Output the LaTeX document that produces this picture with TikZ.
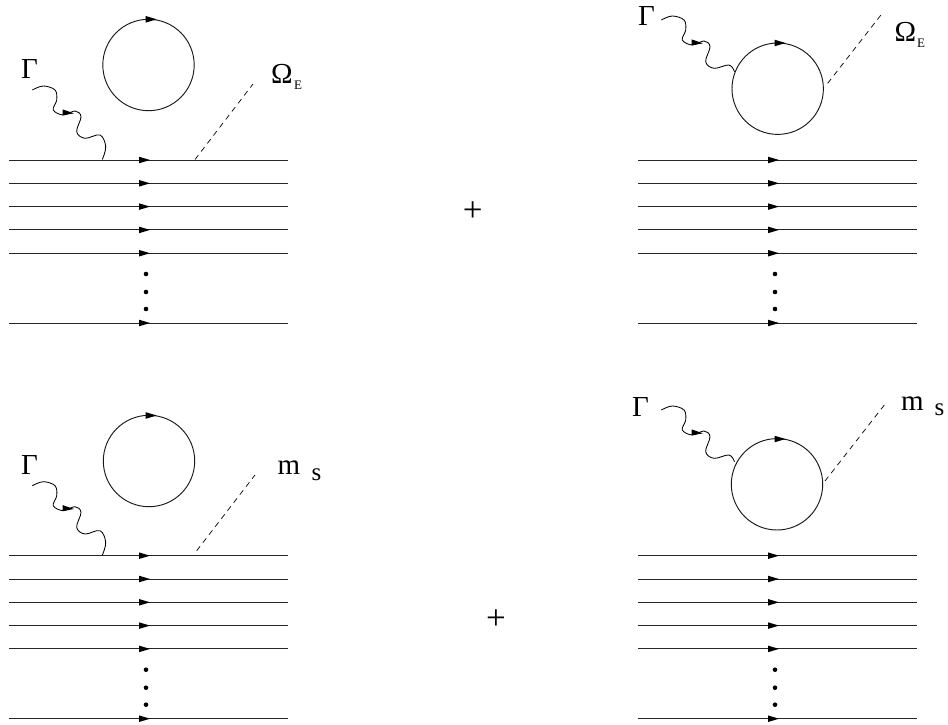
\documentclass[tikz,border=0pt]{standalone}
\usepackage{fontspec}
\setmainfont{Liberation Serif}
\usetikzlibrary{calc}
\newcommand{\bigsz}{\fontsize{29}{32}\selectfont}
\newcommand{\midsz}{\fontsize{25}{28}\selectfont}
\newcommand{\plussz}{\fontsize{35}{38}\selectfont}
\newcommand{\tinysz}{\fontsize{13}{15}\selectfont}
\tikzset{
  fermion/.style={line width=0.95pt,black!85},
  loopc/.style={circle,draw,line width=0.95pt,black!90,minimum size=91.4pt,inner sep=0pt,outer sep=0pt},
  photon/.style={line width=0.85pt,black,line join=round},
  scalar/.style={line width=0.7pt,black,dash pattern=on 5.5pt off 4.6pt},
  lab/.style={inner sep=0pt,outer sep=0pt,anchor=base west,black},
  pluslab/.style={inner sep=0pt,outer sep=0pt,anchor=base,black},
  dotm/.style={circle,fill=black,inner sep=0pt,minimum size=4.6pt}
}
% right-pointing filled arrowhead with its tip at #1
\newcommand{\headat}[1]{\fill[black,shift={#1}] (-11,-3.3) -- (0,0) -- (-11,3.3) -- cycle;}
% fermion lines of a panel: #1 prefix, #2 x shift, #3 first y
\newcommand{\lines}[3]{%
  \foreach \n/\dy in {a/0,b/23.3,c/46.6,d/69.9,e/93.2,f/163}{%
    \coordinate (#1\n l) at (9+#2,#3+\dy);
    \coordinate (#1\n r) at (288+#2,#3+\dy);
    \draw[fermion] (#1\n l) -- (#1\n r);
    \headat{(150+#2,#3+\dy)}
  }%
  \node[dotm] (#1dotA) at (146+#2,#3+114) {};
  \node[dotm] (#1dotB) at (146+#2,#3+132) {};
  \node[dotm] (#1dotC) at (146+#2,#3+149) {};
}
% wavy line: #1 start name, #2 end name, #3 extra points before the end
\newcommand{\wavy}[3]{%
  \draw[photon] plot[smooth,tension=0.6] coordinates {(#1)
    ($(#1)+(11,-4)$) ($(#1)+(22.7,0)$) ($(#1)+(24.4,10)$) ($(#1)+(21,20)$) ($(#1)+(31,25)$)
    ($(#1)+(42.7,21)$) ($(#1)+(48.7,26.7)$) ($(#1)+(44.4,41.7)$) ($(#1)+(52.7,48.3)$)
    ($(#1)+(67.7,45)$) #3 (#2)};
  \fill[black] ($(#1)+(30.3,19.4)$) -- ($(#1)+(41.7,23.3)$) -- ($(#1)+(30.3,25.4)$) -- cycle;
}
\begin{document}
\begin{tikzpicture}[x=1pt,y=-1pt]
\useasboundingbox (0,0) rectangle (948,725);
% top left
\lines{p}{0}{160}
\node[loopc] (cp) at (148.5,65) {};
\headat{(156.7,19.3)}
\coordinate (gp) at (32.3,90);
\coordinate (gpe) at (102.3,159.5);
\wavy{gp}{gpe}{($(gp)+(73.4,56.7)$)}
\coordinate (sp1) at (195,159.5);
\coordinate (sp2) at (253,84);
\draw[scalar] (sp1) -- (sp2);
\node[lab] (tgp) at (21,78) {\bigsz Γ};
\node[lab] (top) at (271,83.5) {\bigsz Ω};
\node[lab] (tep) at (294,89.5) {\tinysz E};
% top right
\lines{q}{629}{160}
\node[loopc] (cq) at (777.7,88.7) {};
\headat{(785.5,43)}
\coordinate (gq) at (661.3,20);
\coordinate (gqe) at (734.5,71.7);
\wavy{gq}{gqe}{}
\coordinate (sq1) at (827.7,83.3);
\coordinate (sq2) at (881.7,14);
\draw[scalar] (sq1) -- (sq2);
\node[lab] (tgq) at (638,26) {\bigsz Γ};
\node[lab] (toq) at (894.5,42) {\bigsz Ω};
\node[lab] (teq) at (917,48) {\tinysz E};
% plus signs
\node[pluslab] (pl1) at (472.7,221.5) {\plussz +};
\node[pluslab] (pl2) at (496,629.5) {\plussz +};
% bottom left
\lines{r}{0}{555.7}
\node[loopc] (cr) at (149,461) {};
\headat{(156.7,415.5)}
\coordinate (gr) at (32.3,485.7);
\coordinate (gre) at (102.3,555.2);
\wavy{gr}{gre}{($(gr)+(73.4,56.7)$)}
\coordinate (sr1) at (196.7,550.7);
\coordinate (sr2) at (255,475);
\draw[scalar] (sr1) -- (sr2);
\node[lab] (tgr) at (21,474) {\bigsz Γ};
\node[lab] (tmr) at (277.5,474) {\bigsz m};
\node[lab] (tsr) at (311.5,480) {\midsz s};
% bottom right
\lines{t}{629}{555.7}
\node[loopc] (ct) at (777,484.3) {};
\headat{(785.5,439)}
\coordinate (gt) at (661.3,410);
\coordinate (gte) at (734.5,461.7);
\wavy{gt}{gte}{}
\coordinate (st1) at (825,481);
\coordinate (st2) at (884.3,405);
\draw[scalar] (st1) -- (st2);
\node[lab] (tgt) at (632,416) {\bigsz Γ};
\node[lab] (tmt) at (901,410) {\bigsz m};
\node[lab] (tst) at (934.5,415) {\midsz s};
\end{tikzpicture}
\end{document}
